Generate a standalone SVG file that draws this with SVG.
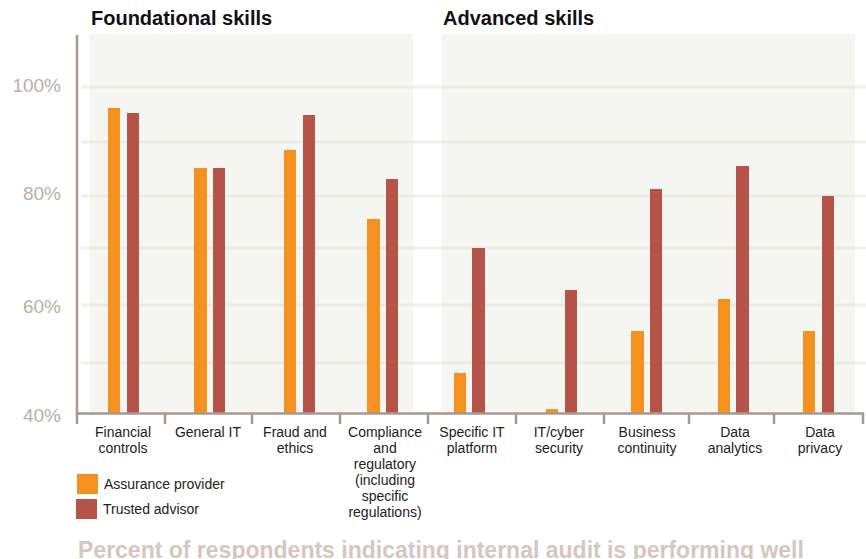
<svg xmlns="http://www.w3.org/2000/svg" width="866" height="559" viewBox="0 0 866 559">
<style>
.hdr{font-family:"Liberation Sans",Arial,sans-serif;font-weight:bold;font-size:20px;fill:#111}
.yl{font-family:"Liberation Sans",Arial,sans-serif;font-size:19px;fill:#bcaea5;text-anchor:end}
.cl{font-family:"Liberation Sans",Arial,sans-serif;font-size:14px;fill:#222;text-anchor:middle}
.lg{font-family:"Liberation Sans",Arial,sans-serif;font-size:14px;fill:#222}
.grid{stroke:#e6dbd0;stroke-width:3;opacity:0.42}
.ax{stroke:#a89990;stroke-width:2.5;fill:none}
.a{fill:#f5911f}
.t{fill:#b6544a}
.panel{fill:#f5f6f1}
.ttl{font-family:"Liberation Sans",Arial,sans-serif;font-weight:bold;font-size:23px;fill:#d6c6bf}
</style>
<rect width="866" height="559" fill="#ffffff"/>
<g id="panels">
<rect class="panel" x="90" y="34" width="323" height="379"/>
<rect class="panel" x="442" y="34" width="413" height="379"/>
</g>
<g id="gridlines">
<line class="grid" x1="81" y1="87" x2="866" y2="87"/>
<line class="grid" x1="81" y1="142" x2="866" y2="142"/>
<line class="grid" x1="81" y1="196" x2="866" y2="196"/>
<line class="grid" x1="81" y1="248" x2="866" y2="248"/>
<line class="grid" x1="81" y1="305" x2="866" y2="305"/>
<line class="grid" x1="81" y1="363" x2="866" y2="363"/>
</g>
<g id="headers">
<text class="hdr" x="91" y="25">Foundational skills</text>
<text class="hdr" x="443" y="25">Advanced skills</text>
</g>
<g id="yaxis">
<text class="yl" x="61" y="91.5">100%</text>
<text class="yl" x="61" y="199.5">80%</text>
<text class="yl" x="61" y="313">60%</text>
<text class="yl" x="61" y="421.5">40%</text>
</g>
<g id="bars">
<g id="financial-controls">
<rect class="a" x="108" y="108" width="12" height="305"/>
<rect class="t" x="127" y="113" width="12" height="300"/>
</g>
<g id="general-it">
<rect class="a" x="194" y="168" width="13" height="245"/>
<rect class="t" x="213" y="168" width="12" height="245"/>
</g>
<g id="fraud-ethics">
<rect class="a" x="284" y="150" width="12" height="263"/>
<rect class="t" x="303" y="115" width="12" height="298"/>
</g>
<g id="compliance">
<rect class="a" x="367" y="219" width="13" height="194"/>
<rect class="t" x="386" y="179" width="12" height="234"/>
</g>
<g id="specific-it">
<rect class="a" x="454" y="373" width="12" height="40"/>
<rect class="t" x="472" y="248" width="13" height="165"/>
</g>
<g id="it-cyber">
<rect class="a" x="546" y="409" width="12" height="4"/>
<rect class="t" x="565" y="290" width="12" height="123"/>
</g>
<g id="business-continuity">
<rect class="a" x="631" y="331" width="13" height="82"/>
<rect class="t" x="650" y="189" width="12" height="224"/>
</g>
<g id="data-analytics">
<rect class="a" x="718" y="299" width="12" height="114"/>
<rect class="t" x="736" y="166" width="13" height="247"/>
</g>
<g id="data-privacy">
<rect class="a" x="803" y="331" width="12" height="82"/>
<rect class="t" x="822" y="196" width="12" height="217"/>
</g>
</g>
<g id="axes">
<line class="ax" x1="77" y1="35" x2="77" y2="414"/>
<line class="ax" x1="76" y1="413.5" x2="864" y2="413.5"/>
<path class="ax" d="M77 413V424M165 413V424M252 413V424M340 413V424M428 413V424M516 413V424M604 413V424M689 413V424M774 413V424M863 413V424"/>
</g>
<g id="category-labels">
<text class="cl" x="123" y="437">Financial<tspan x="123" dy="16">controls</tspan></text>
<text class="cl" x="208" y="437">General IT</text>
<text class="cl" x="295" y="437">Fraud and<tspan x="295" dy="16">ethics</tspan></text>
<text class="cl" x="385" y="437">Compliance<tspan x="385" dy="16">and</tspan><tspan x="385" dy="16">regulatory</tspan><tspan x="385" dy="16">(including</tspan><tspan x="385" dy="16">specific</tspan><tspan x="385" dy="16">regulations)</tspan></text>
<text class="cl" x="472" y="437">Specific IT<tspan x="472" dy="16">platform</tspan></text>
<text class="cl" x="559" y="437">IT/cyber<tspan x="559" dy="16">security</tspan></text>
<text class="cl" x="647" y="437">Business<tspan x="647" dy="16">continuity</tspan></text>
<text class="cl" x="735" y="437">Data<tspan x="735" dy="16">analytics</tspan></text>
<text class="cl" x="820" y="437">Data<tspan x="820" dy="16">privacy</tspan></text>
</g>
<g id="legend">
<rect class="a" x="77" y="474" width="21" height="20"/>
<text class="lg" x="104" y="489">Assurance provider</text>
<rect class="t" x="76" y="499" width="21" height="20"/>
<text class="lg" x="103" y="514">Trusted advisor</text>
</g>
<text class="ttl" x="78" y="558">Percent of respondents indicating internal audit is performing well</text>
</svg>
